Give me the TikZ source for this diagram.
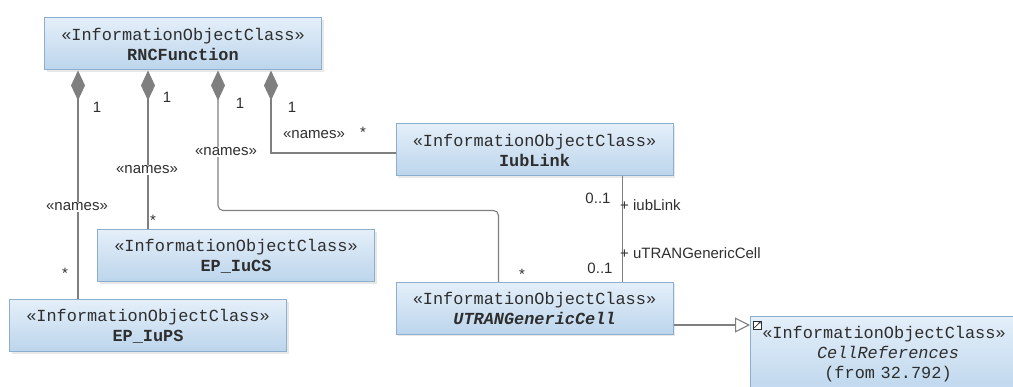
\documentclass[tikz,border=0pt]{standalone}
\usepackage{fontspec}
\setmainfont{Liberation Sans}
\newfontfamily\monof{Liberation Mono}
\usetikzlibrary{arrows.meta,calc,shadows}
\definecolor{boxtop}{HTML}{E4EFF9}
\definecolor{boxbot}{HTML}{BCD5EC}
\definecolor{boxline}{HTML}{8DAFCF}
\definecolor{conn}{HTML}{7F7F7F}
\definecolor{txt}{HTML}{2E2E2E}
\tikzset{
  cls/.style={rectangle, draw=boxline, line width=1pt, top color=boxtop, bottom color=boxbot,
    minimum width=277pt, minimum height=52pt, inner sep=0pt, align=center,
    drop shadow={opacity=0.18, shadow xshift=2pt, shadow yshift=-2pt},
    font=\monof\fontsize{16.9}{20}\selectfont, text=txt},
  assoc/.style={draw=conn, line width=1.1pt},
  comp/.style={assoc, {Diamond[length=30pt,width=14pt,fill=conn,color=conn]}-},
  gen/.style={assoc, -{Triangle[open,length=15pt,width=15pt,fill=white,color=conn]}},
  lbl/.style={font=\fontsize{15}{16}\selectfont, text=txt, inner sep=1pt},
  wlbl/.style={lbl, fill=white},
}
\begin{document}
\begin{tikzpicture}[x=1pt,y=-1pt]
\useasboundingbox (0,0) rectangle (1013,387);
\clip (0,0) rectangle (1013,387);
% classes
\node[cls] (rnc) at (183,44) {«InformationObjectClass»\\\textbf{RNCFunction}};
\node[cls] (iub) at (534.5,150) {«InformationObjectClass»\\\textbf{IubLink}};
\node[cls] (iucs) at (236,256) {«InformationObjectClass»\\\textbf{EP\_IuCS}};
\node[cls] (iups) at (148,326) {«InformationObjectClass»\\\textbf{EP\_IuPS}};
\node[cls] (utran) at (534.5,308.5) {«InformationObjectClass»\\\textbf{\textit{UTRANGenericCell}}};
\node[cls, anchor=north west, minimum width=275pt, minimum height=80pt, text width=264pt] (cref) at (750,316)
  {\rule{0pt}{1pt}\\[-14pt]\hspace*{-8pt}«InformationObjectClass»\\\textit{CellReferences}\\(from 32.792)};
% link icon
\node[draw=txt, line width=0.6pt, minimum size=8pt, inner sep=0pt, fill=white] (icon) at (757,325) {};
\draw[txt, line width=0.7pt, -{Latex[length=3pt,width=3pt]}] ($(icon.south west)+(1.5,-1.5)$) -- (icon.north east);
% anchor points
\coordinate (a1) at ($(rnc.south west)+(34,0)$);
\coordinate (a2) at ($(rnc.south west)+(104,0)$);
\coordinate (a3) at ($(rnc.south west)+(174,0)$);
\coordinate (a4) at ($(rnc.south west)+(227,0)$);
\coordinate (u3) at ($(utran.north west)+(103,0)$);
\coordinate (ib) at ($(iub.south west)+(227,0)$);
\coordinate (g1) at ($(utran.east)+(0,16.5)$);
\coordinate (g2) at (g1 -| cref.west);
% connectors
\draw[comp] (a1) -- (a1 |- iups.north);
\draw[comp] (a2) -- (a2 |- iucs.north);
\draw[comp, rounded corners=5pt] (a3) -- ($(a3)+(0,140)$) -| (u3);
\draw[comp] (a4) |- ($(iub.west)+(0,3)$);
\draw[assoc] (ib) -- (ib |- utran.north);
\draw[gen] (g1) -- (g2);
% labels
\node[lbl] at (97,107) {1};
\node[lbl] at (167,97) {1};
\node[lbl] at (240,103) {1};
\node[lbl] at (292,107) {1};
\node[wlbl] at (77,207) {«names»};
\node[wlbl] at (147,170) {«names»};
\node[wlbl] at (226,152) {«names»};
\node[lbl] at (314,135) {«names»};
\node[lbl] at (363,132) {*};
\node[lbl] at (153,220) {*};
\node[lbl] at (65,273) {*};
\node[lbl] at (522,274) {*};
\node[lbl] at (598,198) {0..1};
\node[lbl] at (600,268) {0..1};
\node[lbl, anchor=west] at (619,205) {+ iubLink};
\node[lbl, anchor=west] at (619,253) {+ uTRANGenericCell};
\end{tikzpicture}
\end{document}
